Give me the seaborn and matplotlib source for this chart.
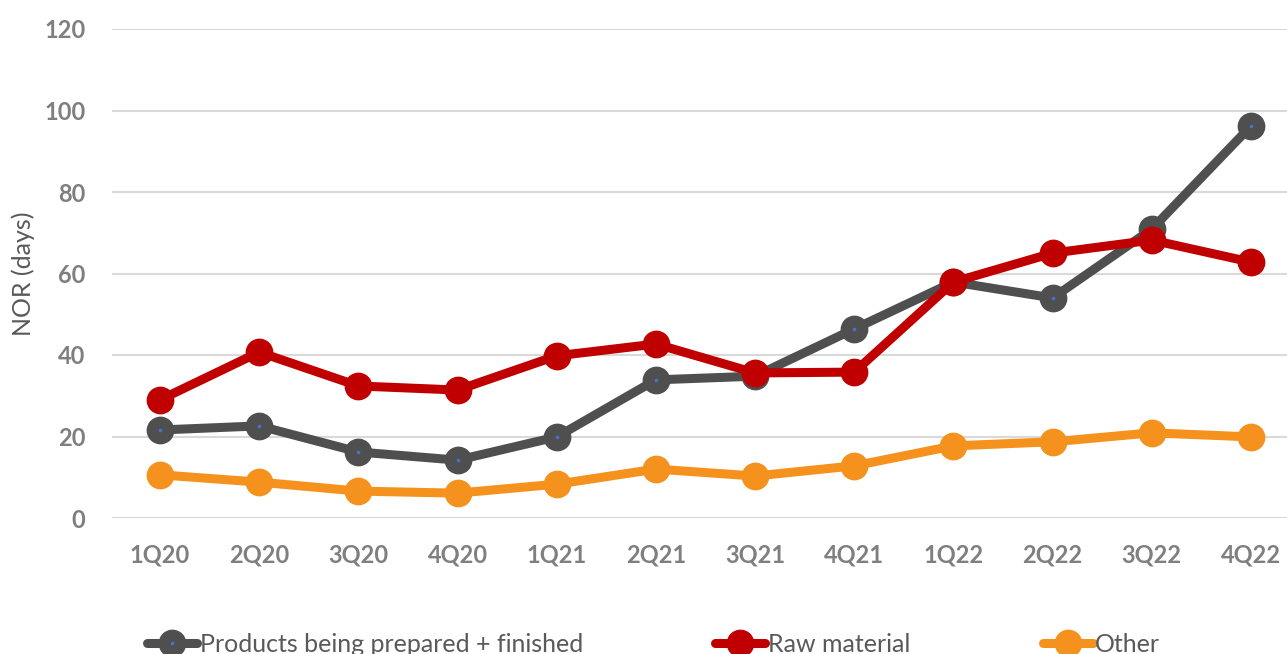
import matplotlib
matplotlib.use("Agg")
import matplotlib.pyplot as plt
import seaborn as sns
import pandas as pd
import numpy as np

quarters = ["1Q20", "2Q20", "3Q20", "4Q20", "1Q21", "2Q21",
            "3Q21", "4Q21", "1Q22", "2Q22", "3Q22", "4Q22"]
products = [21.6, 22.6, 16.2, 14.2, 19.9, 33.9, 34.8, 46.4, 57.9, 54.0, 70.9, 96.2]
raw_material = [29.0, 40.7, 32.4, 31.4, 39.8, 42.7, 35.6, 35.8, 57.9, 65.0, 68.2, 62.8]
other = [10.6, 8.8, 6.6, 6.1, 8.3, 12.0, 10.3, 12.8, 17.7, 18.7, 20.9, 19.9]

series_names = ["Products being prepared + finished", "Raw material", "Other"]
colors = ["#4f4f4f", "#c00000", "#f5921e"]

sns.set_theme(style="white")
plt.rcParams["font.family"] = ["Lato", "DejaVu Sans"]

df = pd.DataFrame({
    "pos": np.tile(np.arange(len(quarters)), 3),
    "value": products + raw_material + other,
    "series": np.repeat(series_names, len(quarters)),
})

fig = plt.figure(figsize=(12.87, 6.54), dpi=100)
ax = fig.add_axes([112 / 1287, (654 - 518) / 654, 1 - 112 / 1287, (518 - 29) / 654])

for name, col in zip(series_names, colors):
    sub = df[df["series"] == name]
    face = "#4472c4" if name == series_names[0] else col
    sns.lineplot(data=sub, x="pos", y="value", ax=ax, color=col, linewidth=6.5,
                 marker="o", markersize=11.5, markeredgewidth=8.5,
                 markeredgecolor=col, markerfacecolor=face, label=name,
                 legend=False, zorder=3)

ax.set_xlim(-0.484, 11.363)
ax.set_ylim(0, 120)
ax.set_yticks(range(0, 121, 20))
ax.set_xticks(range(len(quarters)))
ax.set_xticklabels(quarters)
ax.yaxis.grid(True, color="#d9d9d9", linewidth=1.5)
ax.xaxis.grid(False)
for s in ax.spines.values():
    s.set_visible(False)
ax.tick_params(axis="both", length=0, labelsize=17, labelcolor="#7f7f7f")
ax.tick_params(axis="y", pad=19)
ax.tick_params(axis="x", pad=18)
for t in ax.get_xticklabels() + ax.get_yticklabels():
    t.set_fontweight("bold")
ax.set_xlabel("")
ax.set_ylabel("NOR (days)", fontsize=18, color="#595959")
ax.yaxis.set_label_coords(-(112 - 35) / (1287 - 112), 0.5)

handles, labels = ax.get_legend_handles_labels()
fig.legend(handles, labels, loc="center", bbox_to_anchor=(0.508, 0.015), ncol=3,
           frameon=False, fontsize=18, labelcolor="#595959",
           handlelength=2.0, handletextpad=0.1, columnspacing=5.3)

fig.savefig("out.png", dpi=100)
